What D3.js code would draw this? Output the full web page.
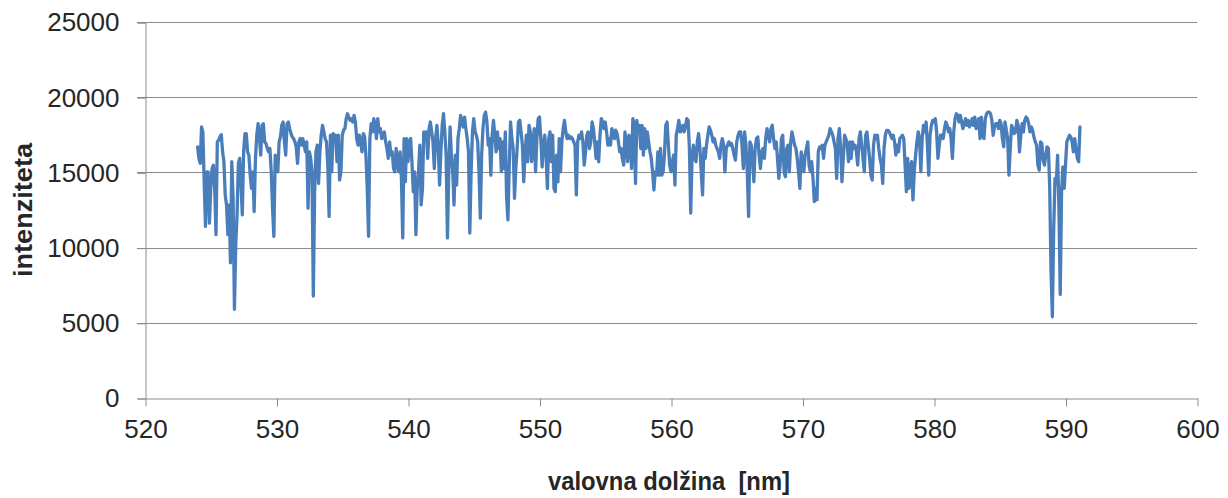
<!DOCTYPE html>
<html>
<head>
<meta charset="utf-8">
<script src="https://cdn.jsdelivr.net/npm/d3@7"></script>
<style>
  html, body { margin: 0; padding: 0; background: #ffffff; }
  svg { display: block; }
</style>
</head>
<body>
<svg id="chart" width="1228" height="498"></svg>
<script>
// Spectrum sampled every 0.1 nm; each band lists intensities from its start wavelength.
const STEP_NM = 0.1;
const bandStarts = [524.0, 531.8, 540.2, 548.6, 556.9, 565.3, 573.7, 582.0];

const band524 = [
  16700, 15930, 15600, 18020, 17690, 14380, 11410, 15040, 15040, 11630,
  13940, 15260, 15480, 13940, 10860, 17030, 17140, 17360, 17510, 16370,
  15710, 13500, 12840, 10860, 12840, 8990, 15710, 13280, 5900, 10200,
  12180, 15600, 15930, 14160, 12180, 16370, 17580, 17580, 16370, 16150,
  14820, 13940, 15040, 12400, 15930, 17470, 18240, 17360, 16150, 18130,
  18240, 17030, 16920, 16590, 16370, 16590, 15040, 12620, 10750, 16150,
  15480, 15040, 17030, 17360, 18130, 18350, 17030, 16150, 18240, 18350,
  17910, 17580, 17360, 17250, 17030, 16700, 15600, 17030
];
const band532 = [
  17250, 16810, 17250, 16810, 16370, 17030, 12620, 16370, 15930, 15040,
  6780, 13720, 16370, 16810, 14270, 16370, 17470, 18130, 17690, 17250,
  17030, 15480, 12070, 17470, 15040, 17580, 17030, 17470, 15710, 17470,
  14490, 15040, 17470, 17800, 17910, 18570, 18900, 18680, 18460, 18570,
  18350, 18790, 18350, 17250, 16810, 17470, 17030, 16370, 17580, 17360,
  16150, 13940, 10750, 17250, 18240, 17690, 18570, 18130, 17250, 18570,
  17690, 17910, 17250, 17470, 17690, 17030, 16590, 15930, 17030, 16150,
  16370, 15260, 15040, 16590, 15710, 15040, 16370, 14600, 10640, 17250,
  14380, 17250, 15710, 17030
];
const band540 = [
  17250, 15710, 13720, 15040, 10860, 13940, 15040, 16810, 12840, 13940,
  17690, 17250, 17690, 15930, 17910, 18350, 17690, 17030, 15260, 17250,
  18130, 16810, 14160, 16370, 18130, 18900, 17690, 16150, 10640, 15040,
  18020, 16150, 15040, 12840, 16150, 14160, 17250, 17910, 18790, 18350,
  18020, 18680, 17910, 17250, 16370, 10970, 15040, 17690, 18570, 17690,
  17470, 17030, 15040, 11960, 16150, 17910, 18790, 19010, 18350, 16810,
  17250, 14820, 17470, 18460, 17470, 16370, 17690, 16590, 17250, 15040,
  17030, 15260, 17690, 13280, 11850, 15480, 18350, 17250, 16590, 13280,
  15260, 16590, 18350, 18460
];
const band549 = [
  17690, 16810, 14380, 16150, 17470, 15710, 18130, 17690, 15710, 16810,
  17910, 15040, 17250, 18570, 18680, 17250, 15370, 16810, 17470, 16150,
  13940, 17250, 17690, 15710, 17470, 13940, 13720, 16150, 14380, 17250,
  15040, 17030, 17910, 18460, 17690, 17250, 17470, 17250, 17360, 17250,
  17030, 16810, 13500, 17030, 17470, 17250, 17690, 17030, 15480, 16370,
  17470, 17690, 16590, 17030, 18350, 17910, 17030, 15930, 17030, 15710,
  17470, 18570, 18350, 17910, 18350, 17690, 16810, 17250, 16810, 17910,
  17690, 17250, 17800, 17580, 17030, 16370, 16590, 15930, 15480, 17690,
  16810, 15710, 17470
];
const band557 = [
  17250, 15260, 18570, 18130, 14270, 18460, 17690, 18130, 16590, 18130,
  16150, 17910, 16590, 17690, 17030, 16370, 15930, 15040, 13830, 15040,
  14820, 16370, 14820, 16590, 14820, 15040, 16150, 18130, 18350, 16810,
  15480, 15040, 15710, 16150, 14160, 17470, 17910, 18460, 17690, 17800,
  18130, 17690, 18020, 18570, 18460, 16590, 12290, 15930, 16810, 15930,
  15710, 17030, 17580, 16590, 15040, 13500, 16590, 15930, 16810, 17470,
  18020, 17800, 17470, 17030, 17250, 16810, 16590, 16370, 15930, 16810,
  17250, 16810, 15040, 16590, 16810, 17030, 16810, 16920, 16590, 16150,
  15820, 17030, 17470, 17690
];
const band565 = [
  17690, 16810, 15260, 17690, 16810, 15040, 12070, 17030, 16810, 15710,
  14380, 16590, 17250, 17360, 16150, 15260, 16370, 16590, 15930, 17250,
  17910, 17470, 17030, 17910, 18130, 17250, 16590, 17030, 15930, 14600,
  15480, 17250, 17470, 15040, 14710, 16590, 16810, 15040, 17030, 17690,
  17250, 16810, 16590, 15930, 15040, 13940, 16370, 15710, 15040, 16150,
  16590, 17030, 15480, 15040, 15710, 14600, 13060, 13940, 13170, 16370,
  16700, 16590, 16810, 15930, 16810, 17030, 17250, 17470, 17910, 17690,
  17470, 17030, 16590, 14600, 17250, 17910, 16590, 14380, 15930, 17470,
  17250, 16810, 15710, 17030
];
const band574 = [
  15930, 17030, 16590, 16810, 16370, 15480, 17250, 17690, 16810, 15930,
  15040, 17470, 17690, 16810, 15930, 14820, 14490, 16810, 17470, 17250,
  17470, 16590, 15930, 15480, 14270, 16590, 17470, 17800, 17800, 17690,
  17470, 17250, 17470, 17030, 16150, 16810, 16370, 17250, 17360, 17470,
  17250, 15480, 13720, 15930, 13940, 15040, 15710, 13170, 15040, 16150,
  17030, 17690, 17250, 15040, 17250, 18130, 17690, 18350, 16810, 14820,
  17470, 18130, 18460, 18350, 18570, 17690, 15930, 16810, 17470, 17470,
  17250, 17910, 18350, 18130, 17690, 17910, 17250, 15930, 17690, 18570,
  18900, 18790, 18350
];
const band582 = [
  18790, 18350, 17910, 18240, 18570, 18130, 18460, 18020, 18240, 18570,
  18130, 18680, 17910, 18130, 18570, 17250, 18680, 17470, 17250, 18570,
  18900, 19010, 19010, 18900, 18460, 17470, 18020, 18240, 18240, 17910,
  18460, 18240, 17250, 16700, 18350, 17800, 17250, 14820, 16590, 18130,
  17910, 17580, 17690, 18460, 18130, 16370, 17470, 18240, 17690, 18460,
  18680, 18570, 18240, 17690, 18020, 17800, 17360, 17030, 16810, 15480,
  15150, 17030, 16920, 15820, 15480, 16150, 16700, 16590, 13940, 8440,
  5400, 11080, 14600, 14270, 16150, 12620, 6890, 13720, 15370, 13940,
  15480, 17030, 17250, 17470, 17360, 17030, 16370, 17250, 16590, 15930,
  15710, 18020
];

const bands = [band524, band532, band540, band549, band557, band565, band574, band582];

// Axis ticks
const xTicks = [520, 530, 540, 550, 560, 570, 580, 590, 600];
const yTicks = [0, 5000, 10000, 15000, 20000, 25000];

const xTitle = "valovna dolžina  [nm]";
const yTitle = "intenziteta";

// Flatten the bands into (wavelength, intensity) points
const spectrum = [];
bands.forEach((vals, b) => {
  vals.forEach((v, i) => {
    spectrum.push({ nm: +(bandStarts[b] + i * STEP_NM).toFixed(2), value: v });
  });
});

const svg = d3.select("#chart");
const plot = { left: 145, right: 1197, top: 22, bottom: 398 };

const x = d3.scaleLinear().domain([520, 600]).range([plot.left, plot.right]);
const y = d3.scaleLinear().domain([0, 25000]).range([plot.bottom, plot.top]);

const gridColor = "#8c8c8c";
const textColor = "#262626";
const fontFam = "'Liberation Sans', Arial, sans-serif";

// Horizontal gridlines (with short ticks left of the axis)
svg.append("g")
  .selectAll("line")
  .data(yTicks.filter(d => d > 0))
  .join("line")
  .attr("x1", plot.left - 8)
  .attr("x2", plot.right)
  .attr("y1", d => Math.round(y(d)) + 0.5)
  .attr("y2", d => Math.round(y(d)) + 0.5)
  .attr("stroke", gridColor)
  .attr("stroke-width", 1);

// Y axis
const yAxis = d3.axisLeft(y).tickValues(yTicks).tickSize(8).tickPadding(18)
  .tickFormat(d3.format("d"));
const gy = svg.append("g")
  .attr("transform", `translate(${plot.left + 0.5},0.5)`)
  .call(yAxis);
gy.select(".domain").attr("stroke", gridColor);
gy.selectAll(".tick line").attr("stroke", gridColor);
gy.selectAll(".tick text")
  .attr("fill", textColor)
  .style("font-family", fontFam)
  .style("font-size", "26px");

// X axis
const xAxis = d3.axisBottom(x).tickValues(xTicks).tickSize(8).tickPadding(13)
  .tickSizeOuter(0).tickFormat(d3.format("d"));
const gx = svg.append("g")
  .attr("transform", `translate(0.5,${plot.bottom + 0.5})`)
  .call(xAxis);
gx.select(".domain").attr("stroke", gridColor);
gx.selectAll(".tick line").attr("stroke", gridColor);
gx.selectAll(".tick text")
  .attr("fill", textColor)
  .style("font-family", fontFam)
  .style("font-size", "26px");

// Spectrum line
const line = d3.line()
  .x(d => x(d.nm))
  .y(d => y(d.value));

svg.append("path")
  .datum(spectrum)
  .attr("d", line)
  .attr("fill", "none")
  .attr("stroke", "#4a7ebb")
  .attr("stroke-width", 3.3)
  .attr("stroke-linejoin", "round")
  .attr("stroke-linecap", "round");

// Axis titles
svg.append("text")
  .attr("x", 669)
  .attr("y", 490)
  .attr("text-anchor", "middle")
  .attr("fill", textColor)
  .attr("textLength", 242)
  .attr("lengthAdjust", "spacingAndGlyphs")
  .style("font-family", fontFam)
  .style("font-weight", "bold")
  .style("font-size", "26px")
  .style("white-space", "pre")
  .text(xTitle);

svg.append("text")
  .attr("transform", "translate(32,210) rotate(-90)")
  .attr("text-anchor", "middle")
  .attr("fill", textColor)
  .attr("textLength", 134)
  .attr("lengthAdjust", "spacingAndGlyphs")
  .style("font-family", fontFam)
  .style("font-weight", "bold")
  .style("font-size", "26px")
  .text(yTitle);
</script>
</body>
</html>
